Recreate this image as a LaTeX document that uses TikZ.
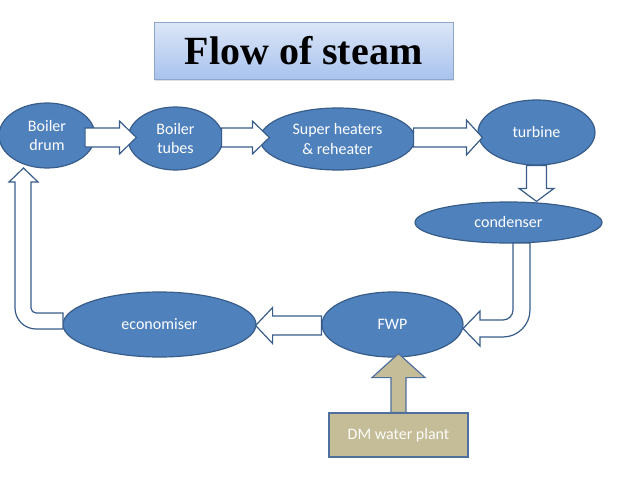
\documentclass[tikz,border=0pt]{standalone}
\usepackage{fontspec}
\setmainfont{Carlito}
\newfontfamily\titlefont{Liberation Serif}
\usetikzlibrary{shapes.geometric,calc,shadows}

\definecolor{unitblue}{HTML}{4F81BD}
\definecolor{unitedge}{HTML}{385D8A}
\definecolor{plantfill}{HTML}{C4BD97}
\definecolor{plantedge}{HTML}{4F6F9F}
\definecolor{titletop}{HTML}{DCE6F7}
\definecolor{titlebottom}{HTML}{A8C3EE}
\definecolor{titleedge}{HTML}{8FA6CC}

\tikzset{
    unit/.style={ellipse, draw=unitedge, fill=unitblue, line width=1.2pt,
        inner sep=0pt, text=white, align=center,
        font=\fontsize{16}{19.5}\selectfont},
    flowarrow/.style={draw=unitedge, fill=white, line width=1.2pt},
    feedarrow/.style={draw=plantedge, fill=plantfill, line width=1.2pt},
    plant/.style={rectangle, draw=plantedge, fill=plantfill, line width=1.2pt,
        text=white!95!plantfill, font=\fontsize{16}{19.5}\selectfont},
    titlebox/.style={rectangle, draw=titleedge, top color=titletop,
        bottom color=titlebottom, inner sep=0pt,
        drop shadow={shadow xshift=1pt, shadow yshift=-1.5pt, opacity=0.25},
        font=\titlefont\bfseries\fontsize{40}{48}\selectfont}
}

% block arrow: [style] start, tip, shaft half width, head half width, head length
\newcommand{\blockarrow}[6][flowarrow]{%
    \draw[#1] let \p1=(#2), \p2=(#3),
        \n1={atan2(\y2-\y1,\x2-\x1)}, \n2={veclen(\x2-\x1,\y2-\y1)} in
        {[shift={(\p1)}, rotate=\n1]
        (0pt,-#4pt) -- (\n2*1pt-#6pt,-#4pt) -- (\n2*1pt-#6pt,-#5pt) -- (\n2*1pt,0pt)
        -- (\n2*1pt-#6pt,#5pt) -- (\n2*1pt-#6pt,#4pt) -- (0pt,#4pt) -- cycle};
}

\begin{document}
\begin{tikzpicture}[x=1pt, y=-1pt]
    \useasboundingbox (0,0) rectangle (638,479);

    % title
    \node[titlebox, minimum width=299pt, minimum height=57pt] (title) at (303.5,50.5) {Flow of steam};

    % top row
    \node[unit, minimum width=96pt, minimum height=65pt] (drum) at (47,135.5) {Boiler\\drum};
    \node[unit, minimum width=95pt, minimum height=63pt] (tubes) at (175.5,138.5) {Boiler\\tubes};
    \node[unit, minimum width=155pt, minimum height=62pt] (super) at (337.5,139) {Super heaters\\\& reheater};
    \node[unit, minimum width=117pt, minimum height=65pt] (turbine) at (536.5,132.5) {turbine};

    % condenser and bottom row
    \node[unit, minimum width=187pt, minimum height=41pt] (condenser) at (508.5,222.5) {condenser};
    \node[unit, minimum width=141pt, minimum height=65pt] (fwp) at (392.5,324.5) {FWP};
    \node[unit, minimum width=193pt, minimum height=65pt] (econ) at (159.5,324.5) {economiser};
    \node[plant, minimum width=139pt, minimum height=44pt] (dm) at (398.5,435) {DM water plant};

    % straight arrows
    \blockarrow{$(drum.east)+(-10.5,2)$}{$(tubes.west)+(9,-1)$}{9.5}{16.5}{17}
    \blockarrow{$(tubes.east)+(-2,-1)$}{$(super.west)+(10,-1.5)$}{9.5}{16.5}{17}
    \blockarrow{$(super.east)+(-2,-1.5)$}{$(turbine.west)+(5,5)$}{9.5}{17.5}{16}
    \blockarrow{turbine.south}{turbine.south |- condenser.north}{10}{17.5}{13}
    \blockarrow{$(fwp.west)+(0,1)$}{$(econ.east)+(-1,1)$}{9.5}{18}{17}
    \blockarrow[feedarrow]{dm.north}{$(fwp.south)+(6,-4)$}{7.5}{26.5}{24}

    % bent arrow condenser -> FWP
    \draw[flowarrow] (513,243) -- (513,310) arc[start angle=0, end angle=-90, radius=10pt]
        -- (480,320) -- (480,311) -- (463,328.5) -- (480,346) -- (480,337) -- (503,337)
        arc[start angle=-90, end angle=0, radius=27pt] -- (530,243) -- cycle;

    % bent arrow economiser -> boiler drum
    \draw[flowarrow] (63,313) -- (36,313) arc[start angle=-90, end angle=-180, radius=5pt]
        -- (31,182) -- (38,182) -- (23.5,168) -- (9,182) -- (15,182) -- (15,308)
        arc[start angle=180, end angle=270, radius=21pt] -- (63,329) -- cycle;

\end{tikzpicture}
\end{document}
